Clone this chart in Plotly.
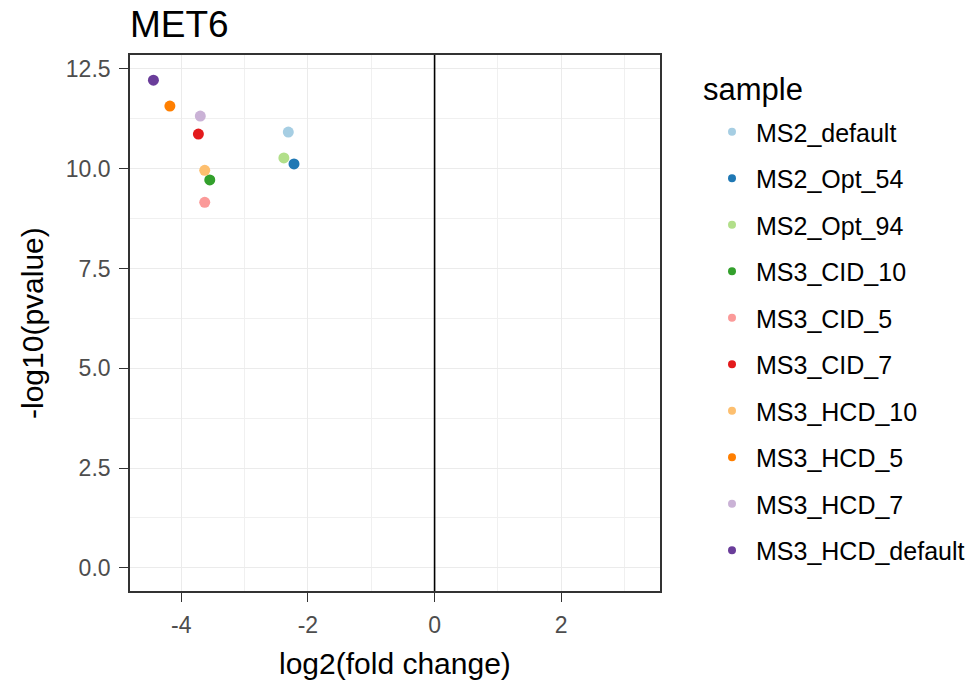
import plotly.graph_objects as go

# ---- data ----
samples = ["MS2_default", "MS2_Opt_54", "MS2_Opt_94", "MS3_CID_10", "MS3_CID_5",
           "MS3_CID_7", "MS3_HCD_10", "MS3_HCD_5", "MS3_HCD_7", "MS3_HCD_default"]
log2fc = [-2.31, -2.22, -2.38, -3.55, -3.63, -3.73, -3.63, -4.18, -3.70, -4.44]
neglog10p = [10.92, 10.12, 10.27, 9.72, 9.16, 10.87, 9.96, 11.57, 11.32, 12.22]
colors = ["#A6CEE3", "#1F78B4", "#B2DF8A", "#33A02C", "#FB9A99",
          "#E31A1C", "#FDBF6F", "#FF7F00", "#CAB2D6", "#6A3D9A"]
x_ticks = [-4, -2, 0, 2]
y_ticks = [0, 2.5, 5, 7.5, 10, 12.5]
y_ticklabels = ["0.0", "2.5", "5.0", "7.5", "10.0", "12.5"]
x_range = [-4.81, 3.56]
y_range = [-0.58, 12.85]

FONT = "Liberation Sans, Arial, sans-serif"

fig = go.Figure()

# plotted points
for s, x, y, c in zip(samples, log2fc, neglog10p, colors):
    fig.add_trace(go.Scatter(x=[x], y=[y], mode="markers", name=s,
                             marker=dict(color=c, size=11, line=dict(width=0)),
                             showlegend=False))
# legend entries (smaller keys)
for s, c in zip(samples, colors):
    fig.add_trace(go.Scatter(x=[None], y=[None], mode="markers", name=s,
                             legendgroup=s,
                             marker=dict(color=c, size=8, line=dict(width=0)),
                             showlegend=True))

# reference lines
fig.add_vline(x=0, line=dict(color="black", width=1.6), layer="above")
for xv in (-1, 1):
    fig.add_vline(x=xv, line=dict(color="white", width=1.5, dash="dash"), layer="below")

axis_common = dict(
    showline=True, mirror=True, linecolor="#333333", linewidth=1.6,
    showgrid=True, gridcolor="#EBEBEB", gridwidth=1.3,
    zeroline=False, ticks="outside", ticklen=9, tickwidth=1.3, tickcolor="#333333",
    tickfont=dict(family=FONT, size=23, color="#4D4D4D"),
    ticklabelstandoff=4,
    minor=dict(showgrid=True, gridcolor="#F0F0F0", gridwidth=0.9, ticks=""),
)

fig.update_xaxes(range=x_range, tickvals=x_ticks, ticktext=[str(v) for v in x_ticks],
                 minor_dtick=1, minor_tick0=-5, **axis_common)
fig.update_yaxes(range=y_range, tickvals=y_ticks, ticktext=y_ticklabels,
                 minor_dtick=1.25, minor_tick0=0, **axis_common)

fig.update_layout(
    width=974, height=682,
    margin=dict(l=130, r=314, t=55, b=91),
    plot_bgcolor="white", paper_bgcolor="white",
    font=dict(family=FONT, color="black"),
    title=dict(text="MET6", x=130 / 974, xanchor="left", xref="container",
               y=1 - 24 / 682, yanchor="middle", yref="container",
               font=dict(family=FONT, size=37, color="black")),
    legend=dict(x=708 / 974, xanchor="left", xref="container",
                y=1 - (109 - 55) / 536, yanchor="top", yref="paper",
                font=dict(family=FONT, size=25, color="black"),
                tracegroupgap=11, itemsizing="trace", itemwidth=38,
                bgcolor="rgba(0,0,0,0)"),
    annotations=[
        dict(text="log2(fold change)", xref="paper", yref="paper",
             x=0.5, y=-(663 - 591) / 536, xanchor="center", yanchor="middle",
             showarrow=False, font=dict(family=FONT, size=30, color="black")),
        dict(text="-log10(pvalue)", xref="paper", yref="paper",
             x=-(130 - 32) / 530, y=0.5, xanchor="center", yanchor="middle",
             textangle=-90, showarrow=False,
             font=dict(family=FONT, size=30, color="black")),
        dict(text="sample", xref="paper", yref="paper",
             x=(701 - 130) / 530, y=1 - (89 - 55) / 536, xanchor="left", yanchor="middle",
             showarrow=False, font=dict(family=FONT, size=31, color="black")),
    ],
)

fig.write_html("out.html")
